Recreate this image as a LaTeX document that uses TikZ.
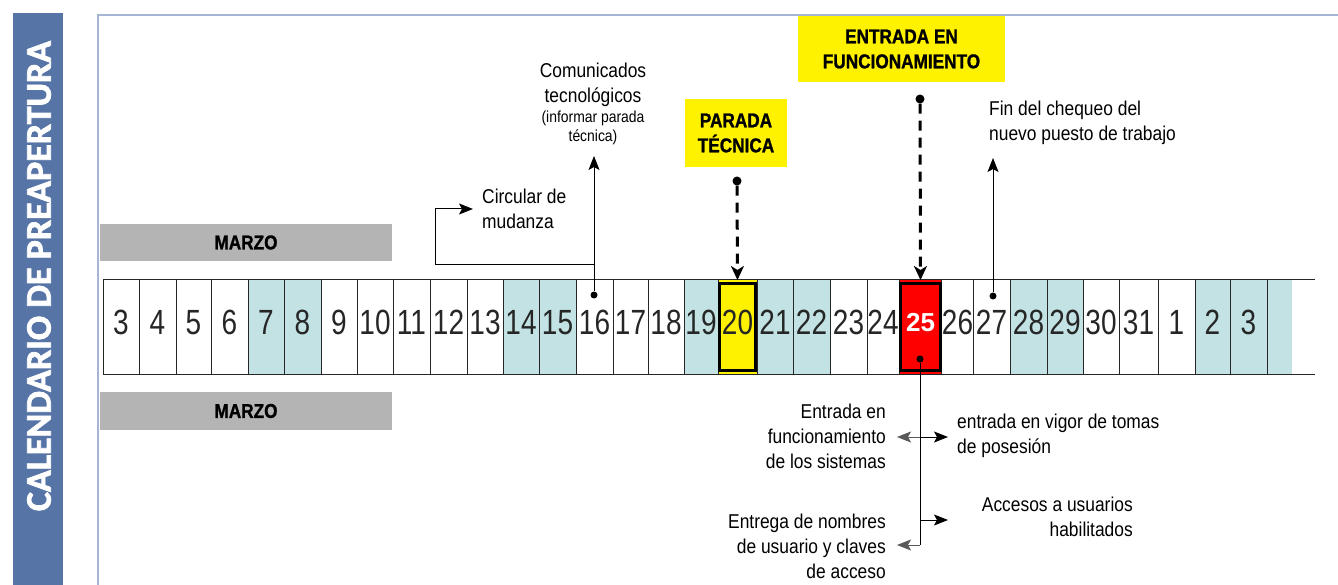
\documentclass[tikz,border=0pt]{standalone}
\usepackage{fontspec}
\setmainfont{Liberation Sans}
\newfontfamily\narrowfont{Liberation Sans}[FakeStretch=0.87]
\newfontfamily\digitfont{Liberation Sans}[FakeStretch=0.8]
\newfontfamily\heavyfont{Liberation Sans}[FakeStretch=0.86, FakeBold=1.2]
\newfontfamily\sidefont{Carlito}[FakeBold=2]
\usetikzlibrary{arrows.meta}
\definecolor{sidebl}{RGB}{86,116,166}
\definecolor{panelln}{RGB}{165,182,210}
\definecolor{shadec}{RGB}{194,226,228}
\definecolor{barg}{RGB}{180,180,180}
\newcommand{\bignum}{\fontspec{Liberation Sans}[FakeStretch=1]\bfseries\fontsize{26}{26}\selectfont\color{white}}
\begin{document}
\begin{tikzpicture}[x=1pt,y=-1pt,
  cellbox/.style={inner sep=0pt, outer sep=0pt, minimum height=94pt,
    font=\digitfont\fontsize{35}{35}\selectfont, text=black!85, text depth=9pt},
  cellline/.style={line width=1pt, black!85},
  thickbox/.style={line width=3pt, black},
  bar/.style={fill=barg, inner sep=0pt, minimum width=292pt,
    font=\heavyfont\bfseries\fontsize{20}{20}\selectfont},
  ybox/.style={fill=yellow, inner sep=0pt, align=center,
    font=\heavyfont\bfseries\fontsize{20}{25}\selectfont},
  lbl/.style={inner sep=0pt, font=\narrowfont\fontsize{20}{25}\selectfont},
  dot/.style={circle, fill=black, inner sep=0pt, minimum size=#1},
  dot/.default=8pt,
  arr/.style={-{Stealth[length=14pt 0,width=11pt 0,inset=3pt]}, line width=1pt},
  garr/.style={-{Stealth[length=14pt 0,width=11pt 0,inset=3pt]}, line width=1pt, black!65},
  darr/.style={-{Stealth[length=14pt 0,width=13pt 0,inset=4pt]}, line width=3pt,
    dash pattern=on 10pt off 7pt},
]
\useasboundingbox (0,0) rectangle (1338,585);
\fill[white] (0,0) rectangle (1338,585);

% sidebar
\fill[sidebl] (13,13) rectangle (63,585);
\node[rotate=90, text=white, inner sep=0pt,
  font=\sidefont\bfseries\fontsize{36}{36}\selectfont] (side) at (39,276)
  {CALENDARIO DE PREAPERTURA};

% panel frame
\draw[panelln, line width=2pt] (98,585) -- (98,15) -- (1338,15);

% month bars
\node[bar, minimum height=37pt] (mtop) at (246,242.5) {MARZO};
\node[bar, minimum height=38pt] (mbot) at (246,411) {MARZO};

% calendar cells
\foreach \i/\a/\b/\t/\f in {
  0/103/139/3/white, 1/139/176/4/white, 2/176/211/5/white, 3/211/248/6/white,
  4/248/284/7/shadec, 5/284/321/8/shadec, 6/321/357/9/white, 7/357/393/10/white,
  8/393/430/11/white, 9/430/467/12/white, 10/467/503/13/white, 11/503/539/14/shadec,
  12/539/576/15/shadec, 13/576/613/16/white, 14/613/648/17/white, 15/648/684/18/white,
  16/684/718/19/shadec, 17/718/757/20/yellow, 18/757/793/21/shadec, 19/793/830/22/shadec,
  20/830/867/23/white, 21/867/899/24/white, 22/899/942/{\bignum 25}/red, 23/942/973/26/white,
  24/973/1010/27/white, 25/1010/1047/28/shadec, 26/1047/1083/29/shadec, 27/1083/1119/30/white,
  28/1119/1158/31/white, 29/1158/1195/1/white, 30/1195/1230/2/shadec, 31/1230/1267/3/shadec,
  32/1267/1292/{}/shadec}
  \node[cellbox, fill=\f, minimum width={(\b-\a)*1pt}] (c\i) at ({(\a+\b)/2},327) {\t};

\foreach \i in {0,...,32}
  \draw[cellline] (c\i.north west) -- (c\i.south west);
\coordinate (stripNE) at (1315,280);
\coordinate (stripSE) at (1315,374);
\draw[cellline] (c0.north west) -- (stripNE);
\draw[cellline] (c0.south west) -- (stripSE);
\draw[thickbox] (719.5,283.5) rectangle (755.5,370.5);
\draw[thickbox] (900.5,283.5) rectangle (940.5,370.5);

% yellow labels
\node[ybox, minimum width=102pt, minimum height=68pt] (parada) at (736,133)
  {PARADA\\TÉCNICA};
\node[ybox, minimum width=207pt, minimum height=66pt] (entrada) at (901.5,49)
  {ENTRADA EN\\FUNCIONAMIENTO};

% dashed arrows
\node[dot=9pt] (dpar) at (737,181) {};
\node[dot=9pt] (dent) at (920,99) {};
\draw[darr] (dpar) -- (c17.north);
\draw[darr] (dent) -- (c22.north);

% upper labels
\node[lbl, align=center] (com) at (593,85) {Comunicados\\tecnológicos};
\node[inner sep=0pt, align=center, font=\narrowfont\fontsize{16}{19}\selectfont]
  (comsmall) at (593,128) {(informar parada\\técnica)};
\node[dot=7pt] (d16) at (594,295) {};
\coordinate (comtip) at (594,156);
\draw[arr] (d16) -- (comtip);

\node[lbl, align=left, anchor=west] (circ) at (482,209) {Circular de\\mudanza};
\coordinate (cb) at (594,265);
\coordinate (circtip) at (473,209);
\draw[arr] (cb) -- (435,265) |- (circtip);

\node[lbl, align=left, anchor=west] (fin) at (989,123)
  {Fin del chequeo del\\nuevo puesto de trabajo};
\node[dot=7pt] (d27) at (993,296) {};
\coordinate (fintip) at (993,158);
\draw[arr] (d27) -- (fintip);

% lower branches
\node[dot=7pt] (d25) at (920,359) {};
\coordinate (j1) at (920,437);
\coordinate (j2) at (920,520);
\coordinate (j3) at (920,545);
\draw[line width=1pt] (d25) -- (j3);

\node[lbl, align=right, anchor=east] (entf) at (886,436)
  {Entrada en\\funcionamiento\\de los sistemas};
\coordinate (entftip) at (897,437);
\draw[garr] (j1) -- (entftip);

\node[lbl, align=left, anchor=west] (vigor) at (957,436)
  {entrada en vigor de tomas\\de posesión};
\coordinate (vigortip) at (948,437);
\draw[arr] (j1) -- (vigortip);

\node[lbl, align=right, anchor=east] (acc) at (1133,517)
  {Accesos a usuarios\\habilitados};
\coordinate (acctip) at (948,520);
\draw[arr] (j2) -- (acctip);

\node[lbl, align=right, anchor=east] (entr) at (886,546)
  {Entrega de nombres\\de usuario y claves\\de acceso};
\coordinate (entrtip) at (897,545);
\draw[garr] (j3) -- (entrtip);
\end{tikzpicture}
\end{document}
